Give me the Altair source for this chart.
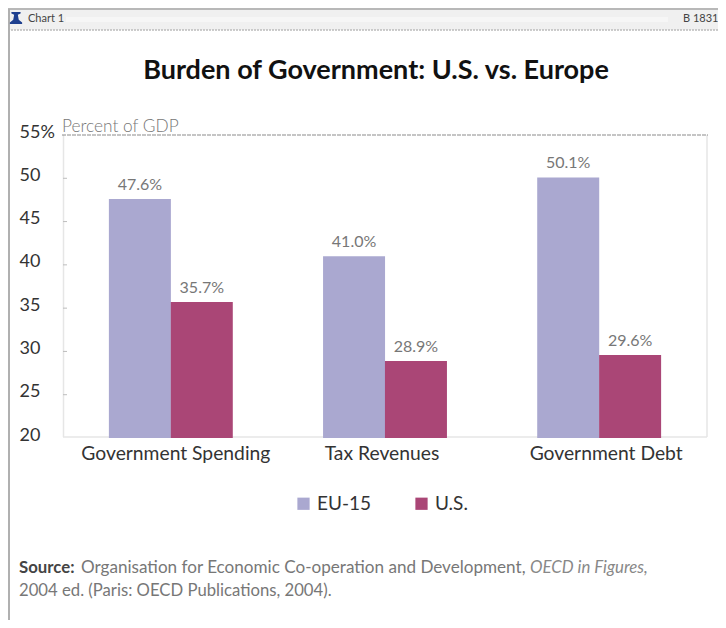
import altair as alt
import pandas as pd

categories = ["Government Spending", "Tax Revenues", "Government Debt"]
series_names = ["EU-15", "U.S."]
eu_values = [47.6, 41.0, 50.1]
us_values = [35.7, 28.9, 29.6]
eu_labels = ["47.6%", "41.0%", "50.1%"]
us_labels = ["35.7%", "28.9%", "29.6%"]
bar_colors = ["#aaa8d0", "#aa4676"]
y_ticks = [55, 50, 45, 40, 35, 30, 25, 20]
inner_ticks = [50, 45, 40, 35, 30, 25]

FONT = "Lato"
OX, OY = 63, 135   # plot-area origin on the page


def px(v):
    return alt.value(v - OX)


def py(v):
    return alt.value(v - OY)


rows = []
for i, c in enumerate(categories):
    rows.append({"cat": c, "series": series_names[0], "val": eu_values[i], "lab": eu_labels[i]})
    rows.append({"cat": c, "series": series_names[1], "val": us_values[i], "lab": us_labels[i]})
df = pd.DataFrame(rows)
blank = alt.Data(values=[{"a": 1}])


def label(t, x, y, size, color="#777777", align="left", weight=400, style="normal", font=FONT):
    return alt.Chart(blank).mark_text(
        text=t, align=align, baseline="middle", fontSize=size, color=color,
        fontWeight=weight, fontStyle=style, font=font,
    ).encode(x=px(x), y=py(y))


def rect(x1, x2, y1, y2, color):
    return alt.Chart(blank).mark_rect(color=color).encode(
        x=px(x1), x2=px(x2), y=py(y1), y2=py(y2))


def hline(x1, x2, y, color, w=1.0, dash=None):
    kw = {"strokeDash": dash} if dash else {}
    return alt.Chart(blank).mark_rule(color=color, strokeWidth=w, **kw).encode(
        x=px(x1), x2=px(x2), y=py(y))


def vline(x, y1, y2, color, w=1.0, dash=None):
    kw = {"strokeDash": dash} if dash else {}
    return alt.Chart(blank).mark_rule(color=color, strokeWidth=w, **kw).encode(
        x=px(x), y=py(y1), y2=py(y2))


bell_path = ("M-0.75,-1 L0.75,-1 L0.75,-0.72 L0.3,-0.55 L0.45,0.3 L1,0.72 L1,1 L-1,1 "
             "L-1,0.72 L-0.45,0.3 L-0.3,-0.55 L-0.75,-0.72 Z")

chrome = [
    rect(8, 718, 9, 30, "#f0f0f0"),
    rect(66, 668, 17, 22, "#f6f6f6"),
    hline(8, 718, 9, "#b8b8b8", 2),
    hline(8, 718, 30, "#bcbcbc", 1.5, [2, 1]),
    vline(9, 9, 620, "#b0b0b0", 2),
    alt.Chart(blank).mark_point(shape=bell_path, filled=True, color="#1d3f8f", size=150, opacity=1)
    .encode(x=px(16), y=py(18)),
    label("Chart 1", 28, 19, 11, "#444444"),
    label("B 1831", 683, 19, 11, "#444444"),
    label("Burden of Government: U.S. vs. Europe", 376, 71, 27, "#111111", "center", 700),
    label("Percent of GDP", 62, 127, 17.3, "#777777", weight=300),
    vline(63.5, 135, 437, "#e6e6e6", 1.5),
    vline(707, 135, 437, "#e6e6e6", 1.5),
    hline(63, 707, 437, "#e6e6e6", 1.5),
    hline(62, 708, 135, "#8c8c8c", 1.2, [4, 1]),
    alt.Chart(pd.DataFrame({"t": inner_ticks})).mark_rule(color="#bdbdbd", strokeWidth=1).encode(
        y=alt.Y("t:Q"), x=alt.value(0), x2=alt.value(4)),
    label("Source:", 19, 568, 16.8, "#444444", weight=700),
    label("Organisation for Economic Co-operation and Development,", 81, 568, 17.1, "#777777"),
    label("OECD in Figures,", 530, 568, 16.8, "#888888", style="italic"),
    label("2004 ed. (Paris: OECD Publications, 2004).", 19, 591, 16.7, "#777777"),
]

x_enc = alt.X(
    "cat:N", sort=categories, title=None,
    scale=alt.Scale(domain=categories, paddingInner=0.4219, paddingOuter=0.2145),
    axis=alt.Axis(
        domain=False, ticks=False, labelAngle=0, labelFont=FONT, labelFontSize=19.3,
        labelColor="#333333", labelPadding=6, labelLimit=400,
        labelOffset=alt.ExprRef(
            "datum.value == 'Government Spending' ? 5 : datum.value == 'Tax Revenues' ? -3 : 7"),
    ),
)
y_enc = alt.Y(
    "val:Q", stack=None, title=None,
    scale=alt.Scale(domain=[20, 55], nice=False, zero=False),
    axis=alt.Axis(
        values=y_ticks, grid=False, domain=False, ticks=False, labelAlign="left",
        labelPadding=44, labelOffset=-3, labelFont=FONT, labelFontSize=18, labelColor="#333333",
        labelExpr="datum.value == 55 ? '55%' : datum.label",
    ),
)
x_off = alt.XOffset("series:N", sort=series_names)

bars = alt.Chart(df).mark_bar(size=62, opacity=1).encode(
    x=x_enc, xOffset=x_off, y=y_enc,
    color=alt.Color(
        "series:N", title=None, sort=series_names,
        scale=alt.Scale(domain=series_names, range=bar_colors),
        legend=alt.Legend(
            orient="none", legendX=231, legendY=359, direction="horizontal", columns=2,
            symbolType="square", symbolSize=150, symbolOpacity=1, symbolStrokeWidth=0,
            labelFont=FONT, labelFontSize=19, labelColor="#333333", labelOffset=4,
            columnPadding=40, title=None,
        ),
    ),
)
vals = alt.Chart(df).mark_text(
    baseline="bottom", dy=-6, fontSize=16, font=FONT, color="#777777", align="center"
).encode(
    x=alt.X("cat:N", sort=categories, title=None), xOffset=x_off,
    y=alt.Y("val:Q", stack=None, title=None), text="lab:N",
)

chart = alt.layer(*chrome, bars, vals).properties(
    width=644, height=303,
    padding={"left": 55, "top": 127, "right": 11, "bottom": 182},
    autosize=alt.AutoSizeParams(type="none"),
    background="white",
).configure_view(stroke=None)

chart.save("out.html", embed_options={"renderer": "svg", "actions": False})
